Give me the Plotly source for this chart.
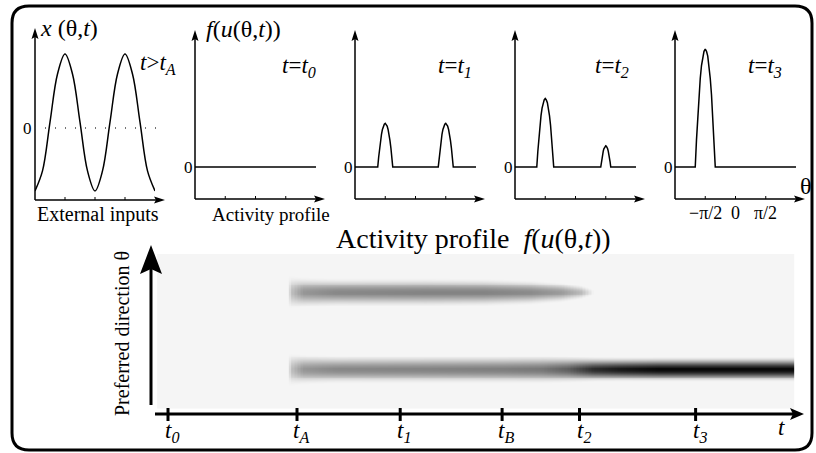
import numpy as np
import plotly.graph_objects as go

W, H = 816, 453
PI = np.pi

# ------------------------------------------------------------------ data
# external input x(theta, t) for t > tA, sampled every pi/8 from -pi to pi
input_theta_over_pi = [-1, -0.875, -0.75, -0.625, -0.5, -0.375, -0.25, -0.125, 0,
                       0.125, 0.25, 0.375, 0.5, 0.625, 0.75, 0.875, 1]
external_input = [-0.85, -0.58, 0.08, 0.73, 1.0, 0.73, 0.08, -0.58, -0.85,
                  -0.58, 0.08, 0.73, 1.0, 0.73, 0.08, -0.58, -0.85]

# shape of one activity bump (relative offset from centre / relative height)
bump_offset = [-1, -0.875, -0.75, -0.625, -0.5, -0.375, -0.25, -0.125, 0,
               0.125, 0.25, 0.375, 0.5, 0.625, 0.75, 0.875, 1]
bump_shape = [0, 0.23, 0.44, 0.61, 0.75, 0.86, 0.94, 0.98, 1,
              0.98, 0.94, 0.86, 0.75, 0.61, 0.44, 0.23, 0]

# activity snapshots: bumps at -pi/2 and +pi/2
bump_centers = [-PI / 2, PI / 2]
snapshot_names = ["0", "1", "2", "3"]
snapshot_heights = [[0.0, 0.0], [0.37, 0.37], [0.58, 0.18], [1.0, 0.0]]
snapshot_halfwidths = [[0.40, 0.40], [0.39, 0.39], [0.44, 0.26], [0.52, 0.30]]

# time axis of the space-time plot
time_ticks = [0.0, 1.0, 1.80, 2.59, 3.19, 4.09]
time_tick_subs = ["0", "A", "1", "B", "2", "3"]

# band amplitude / width key points (upper band at +pi/2, lower at -pi/2)
up_t = [0.93, 0.955, 1.05, 1.3, 2.0, 2.45, 2.8, 3.05, 3.2, 3.3]
up_amp = [0.0, 0.22, 0.40, 0.46, 0.48, 0.48, 0.45, 0.38, 0.25, 0.0]
up_w = [0.72, 0.70, 0.64, 0.60, 0.60, 0.58, 0.52, 0.42, 0.30, 0.15]
lo_t = [0.93, 0.955, 1.05, 1.3, 2.0, 2.6, 2.9, 3.1, 3.3, 3.5, 3.8, 4.85]
lo_amp = [0.0, 0.22, 0.40, 0.46, 0.48, 0.50, 0.53, 0.63, 0.85, 0.93, 1.0, 1.0]
lo_w = [0.72, 0.70, 0.64, 0.60, 0.60, 0.60, 0.60, 0.57, 0.53, 0.52, 0.52, 0.52]
heat_t_range = [-0.078, 4.845]

FONT = "Liberation Serif"

# ------------------------------------------------------------------ helpers
def xd(p0, p1):
    return [p0 / W, p1 / W]

def yd(top, bot):
    return [1 - bot / H, 1 - top / H]

fig = go.Figure()

# panel 1 : external inputs
fig.add_trace(go.Scatter(x=[v * PI for v in input_theta_over_pi], y=external_input,
                         mode="lines", line=dict(color="black", width=1.5, shape="spline"),
                         xaxis="x", yaxis="y", hoverinfo="skip"))

# panels 2-5 : activity snapshots
for i, (hs, ws) in enumerate(zip(snapshot_heights, snapshot_halfwidths)):
    pts = [(-PI, 0.0), (PI, 0.0)]
    for c, h, w in zip(bump_centers, hs, ws):
        if h > 0:
            pts += [(c + o * w, h * s) for o, s in zip(bump_offset, bump_shape)]
    pts.sort()
    ax = str(i + 2)
    fig.add_trace(go.Scatter(x=[p[0] for p in pts], y=[p[1] for p in pts], mode="lines",
                             line=dict(color="black", width=1.5),
                             xaxis="x" + ax, yaxis="y" + ax, hoverinfo="skip"))

# space-time heatmap
tg = np.linspace(heat_t_range[0], heat_t_range[1], 420)
thg = np.linspace(-PI, PI, 170)
A_up, W_up = np.interp(tg, up_t, up_amp), np.interp(tg, up_t, up_w)
A_lo, W_lo = np.interp(tg, lo_t, lo_amp), np.interp(tg, lo_t, lo_w)

def prof(d, w):
    r = np.clip(np.abs(d) / w, 0, 1)
    return 0.5 * (1 + np.cos(PI * r))

TH, _ = np.meshgrid(thg, tg, indexing="ij")
Z = A_up[None, :] * prof(TH - PI / 2, W_up[None, :]) + A_lo[None, :] * prof(TH + PI / 2, W_lo[None, :])
fig.add_trace(go.Heatmap(x=tg, y=thg, z=Z, zmin=0, zmax=1, showscale=False,
                         colorscale=[[0, "rgb(245,245,245)"], [1, "rgb(8,8,8)"]],
                         xaxis="x6", yaxis="y6", hoverinfo="skip"))

# ------------------------------------------------------------------ axes
layout = dict(width=W, height=H, autosize=False, margin=dict(l=0, r=0, t=0, b=0),
              paper_bgcolor="white", plot_bgcolor="rgba(0,0,0,0)", showlegend=False,
              font=dict(family=FONT, color="black"))

def hidden(**kw):
    d = dict(visible=False, fixedrange=True)
    d.update(kw)
    return d

layout["xaxis"] = hidden(domain=xd(35, 155), range=[-PI, PI], anchor="y")
layout["yaxis"] = hidden(domain=yd(28, 200), range=[(128 - 200) / 74, (128 - 28) / 74], anchor="x")
origins = [195, 355, 515, 675]
for i, o in enumerate(origins):
    k = str(i + 2)
    layout["xaxis" + k] = hidden(domain=xd(o, o + 121), range=[-PI, PI], anchor="y" + k)
    layout["yaxis" + k] = hidden(domain=yd(30, 199), range=[(167 - 199) / 118, (167 - 30) / 118], anchor="x" + k)
layout["xaxis6"] = hidden(domain=xd(155, 803), range=[(155 - 168) / 129, (803 - 168) / 129], anchor="y6")
layout["yaxis6"] = hidden(domain=yd(254, 414), range=[-(414 - 331) / 77 * PI, PI], anchor="x6")
layout["xaxis7"] = hidden(domain=[0, 1], range=[0, W], anchor="y7")
layout["yaxis7"] = hidden(domain=[0, 1], range=[H, 0], anchor="x7")

shapes = []

def P(path, fill="black", width=0):
    shapes.append(dict(type="path", path=path, xref="x7", yref="y7", fillcolor=fill,
                       line=dict(color="black", width=width), layer="above"))

def L(x0, y0, x1, y1, width=1.5, dash=None, color="black", xref="x7"):
    ln = dict(color=color, width=width)
    if dash:
        ln["dash"] = dash
    shapes.append(dict(type="line", x0=x0, y0=y0, x1=x1, y1=y1, xref=xref, yref="y7",
                       line=ln, layer="above"))

# border (rounded rectangle)
x0, x1, y0, y1, r = 12, 812, 6, 450, 17
P(f"M {x0+r},{y0} L {x1-r},{y0} Q {x1},{y0} {x1},{y0+r} L {x1},{y1-r} Q {x1},{y1} {x1-r},{y1} "
  f"L {x0+r},{y1} Q {x0},{y1} {x0},{y1-r} L {x0},{y0+r} Q {x0},{y0} {x0+r},{y0} Z",
  fill="rgba(0,0,0,0)", width=3)

def small_axes(o, ybase, ytip, xref):
    L(o, ybase, o, ytip + 8)
    P(f"M {o},{ytip} L {o+3.5},{ytip+11} L {o},{ytip+9} L {o-3.5},{ytip+11} Z")
    L(o, ybase, o + 122, ybase)
    P(f"M {o+130},{ybase} L {o+119},{ybase-3.5} L {o+121},{ybase} L {o+119},{ybase+3.5} Z")
    for tv in [-PI / 2, 0, PI / 2]:
        L(tv, ybase, tv, ybase - 3, width=1, xref=xref)

small_axes(35, 200, 28, "x")
L(35, 128, 160, 128, width=1.3, dash="1px,9px", color="#444")
for i, o in enumerate(origins):
    small_axes(o, 199, 30, "x" + str(i + 2))

# big theta arrow
L(151, 405, 151, 262, width=3)
P("M 151,245 L 162,274 L 151,269 L 140,274 Z")
# time axis
L(155, 414, 795, 414, width=3)
P("M 804,414 L 790,408 L 793,414 L 790,420 Z")
for tv in time_ticks:
    L(tv, 408, tv, 421, width=3, xref="x6")

layout["shapes"] = shapes

ann = []

def A(x, y, text, size, xref="x7", **kw):
    d = dict(x=x, y=y, xref=xref, yref="y7", text=text, showarrow=False,
             font=dict(size=size, family=FONT, color="black"), xanchor="center", yanchor="middle")
    d.update(kw)
    ann.append(d)

A(69, 28, "<i>x</i> (θ,<i>t</i>)", 24)
A(158, 64, "<i>t</i>><i>t<sub>A</sub></i>", 23)
A(27, 128, "0", 17)
A(98, 214, "External inputs", 20)
A(243, 29, "<i>f</i>(<i>u</i>(θ,<i>t</i>))", 24)
A(271, 214, "Activity profile", 19)
title_x = [299, 455, 612, 765]
for nm, tx, o in zip(snapshot_names, title_x, origins):
    A(tx, 67, f"<i>t</i>=<i>t<sub>{nm}</sub></i>", 23)
    A(o - 7, 167, "0", 17)
for tv, tt in zip([-PI / 2, 0, PI / 2], ["−π/2", "0", "π/2"]):
    A(tv, 213, tt, 18, xref="x5")
A(806, 186, "θ", 24)
A(473, 238, "Activity profile  <i>f</i>(<i>u</i>(θ,<i>t</i>))", 28)
A(122, 334, "Preferred direction θ", 20, textangle=-90)
for tv, s in zip(time_ticks, time_tick_subs):
    A(tv, 432, f"<i>t<sub>{s}</sub></i>", 23, xref="x6", xshift=4)
A(781, 427, "<i>t</i>", 23)
layout["annotations"] = ann

fig.update_layout(**layout)
fig.write_html("out.html", config={"displayModeBar": False, "staticPlot": True},
               post_script="document.body.style.margin='0';document.body.style.overflow='hidden';")
